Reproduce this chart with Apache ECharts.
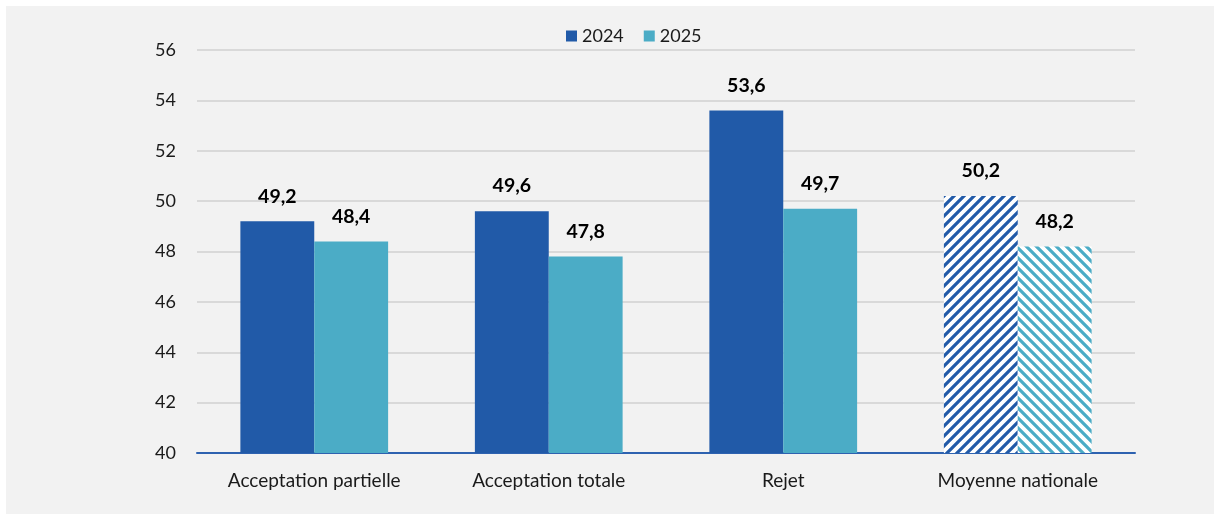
<!DOCTYPE html>
<html>
<head>
<meta charset="utf-8">
<script src="https://cdn.jsdelivr.net/npm/echarts@6/dist/echarts.min.js"></script>
<style>
  html, body { margin:0; padding:0; background:#ffffff; }
  #panel { position:absolute; left:6px; top:6px; width:1208px; height:508px; background:#f2f2f2; }
  #chart { position:absolute; left:0; top:0; width:1214px; height:514px; }
</style>
</head>
<body>
<div id="panel"></div>
<div id="chart"></div>
<script>
const categories = ['Acceptation partielle', 'Acceptation totale', 'Rejet', 'Moyenne nationale'];
const seriesNames = ['2024', '2025'];
const values2024 = [49.2, 49.6, 53.6, 50.2];
const values2025 = [48.4, 47.8, 49.7, 48.2];
const yTicks = { min: 40, max: 56, interval: 2 };

const COLOR_2024 = '#215aa8';
const COLOR_2025 = '#4bacc6';

function stripePattern(color, dir) {
  const s = 10;
  const c = document.createElement('canvas');
  c.width = s; c.height = s;
  const ctx = c.getContext('2d');
  ctx.fillStyle = '#ffffff';
  ctx.fillRect(0, 0, s, s);
  ctx.strokeStyle = color;
  ctx.lineWidth = 3.2;
  ctx.beginPath();
  if (dir === '/') {
    ctx.moveTo(-s, s); ctx.lineTo(s, -s);
    ctx.moveTo(0, 2*s); ctx.lineTo(2*s, 0);
    ctx.moveTo(-s, 2*s); ctx.lineTo(2*s, -s);
  } else {
    ctx.moveTo(-s, 0); ctx.lineTo(s, 2*s);
    ctx.moveTo(0, -s); ctx.lineTo(2*s, s);
    ctx.moveTo(-s, -s); ctx.lineTo(2*s, 2*s);
  }
  ctx.stroke();
  return { image: c, repeat: 'repeat' };
}

function buildData(vals, color, dir) {
  return vals.map((v, i) => {
    if (i === vals.length - 1) {
      return { value: v, itemStyle: { color: stripePattern(color, dir) } };
    }
    return v;
  });
}

const labelStyle = {
  show: true,
  position: 'top',
  distance: 15,
  fontFamily: 'Lato',
  fontWeight: 'bold',
  fontSize: 19.5,
  color: '#000000',
  formatter: p => String(p.value).replace('.', ',')
};

const chart = echarts.init(document.getElementById('chart'));
chart.setOption({
  backgroundColor: 'transparent',
  animation: false,
  textStyle: { fontFamily: 'Lato' },
  legend: {
    top: 22,
    left: 561,
    itemWidth: 11,
    itemHeight: 11,
    itemGap: 20,
    icon: 'rect',
    textStyle: { fontSize: 18, color: '#1a1a1a', fontFamily: 'Lato' },
    data: seriesNames
  },
  grid: { left: 197, right: 79, top: 50, bottom: 61 },
  xAxis: {
    type: 'category',
    data: categories,
    axisLine: { lineStyle: { color: '#2e62b0', width: 2 } },
    axisTick: { show: false },
    axisLabel: { fontSize: 19, color: '#1a1a1a', margin: 18, fontFamily: 'Lato' }
  },
  yAxis: {
    type: 'value',
    min: yTicks.min, max: yTicks.max, interval: yTicks.interval,
    axisLine: { show: false },
    axisTick: { show: false },
    splitLine: { lineStyle: { color: '#d9d9d9', width: 2 } },
    axisLabel: { fontSize: 18, color: '#1a1a1a', margin: 21, fontFamily: 'Lato' }
  },
  series: [
    {
      name: seriesNames[0], type: 'bar',
      data: buildData(values2024, COLOR_2024, '/'),
      itemStyle: { color: COLOR_2024 },
      barGap: '0%', barCategoryGap: '37%',
      label: labelStyle
    },
    {
      name: seriesNames[1], type: 'bar',
      data: buildData(values2025, COLOR_2025, '\\'),
      itemStyle: { color: COLOR_2025 },
      barGap: '0%', barCategoryGap: '37%',
      label: labelStyle
    }
  ]
});
</script>
</body>
</html>
